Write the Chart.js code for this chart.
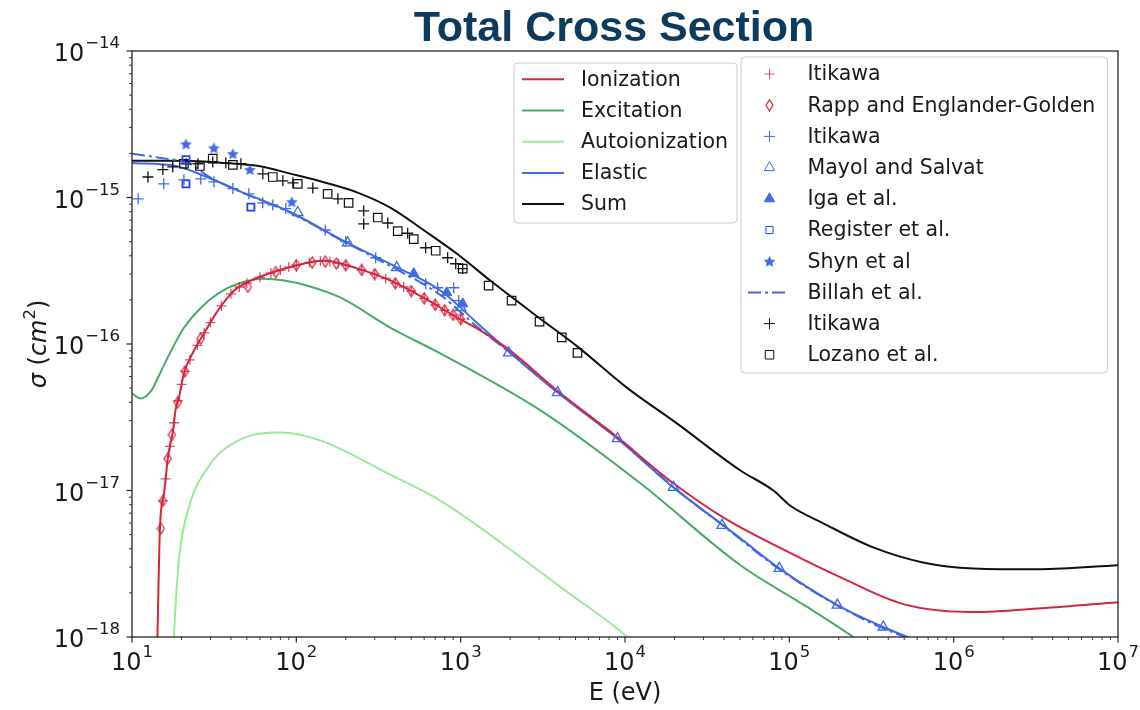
<!DOCTYPE html>
<html>
<head>
<meta charset="utf-8">
<title>Total Cross Section</title>
<script src="https://cdn.jsdelivr.net/npm/chart.js@4.4.1/dist/chart.umd.min.js"></script>
<style>
  html, body { margin: 0; padding: 0; background: #fff; }
  #wrap { position: relative; width: 1140px; height: 710px; }
</style>
</head>
<body>
<div id="wrap"><canvas id="xsChart" width="1140" height="710"></canvas></div>
<script>
// energies in eV, cross sections in cm^2

// model curves
const ionE = [14.25, 14.8, 15.7, 16.6, 17.7, 18.5, 19.3, 20.7, 23.8, 27.4, 33.3, 41.7, 52.9, 76.8, 117, 147, 236, 375, 594, 958, 1270, 1930, 4000, 9000, 19700, 40000, 101000, 204000, 500000, 1320000, 3400000, 10000000];
const ionS = [9e-19, 5.6e-18, 9.7e-18, 1.73e-17, 2.49e-17, 3.68e-17, 4.3e-17, 6.3e-17, 9.0e-17, 1.18e-16, 1.69e-16, 2.31e-16, 2.71e-16, 3.16e-16, 3.59e-16, 3.71e-16, 3.27e-16, 2.71e-16, 2.07e-16, 1.51e-16, 1.27e-16, 9.3e-17, 4.66e-17, 2.3e-17, 1.12e-17, 6.5e-18, 3.75e-18, 2.56e-18, 1.67e-18, 1.48e-18, 1.57e-18, 1.73e-18];

const excE = [10, 11.3, 13.1, 14.4, 16.5, 20.7, 26.3, 33.3, 44.1, 63.3, 84, 117, 186, 375, 756, 3060, 12400, 50400, 129000, 245000, 300000];
const excS = [4.6e-17, 4.25e-17, 4.8e-17, 5.9e-17, 8.1e-17, 1.29e-16, 1.77e-16, 2.21e-16, 2.58e-16, 2.79e-16, 2.71e-16, 2.5e-16, 2.07e-16, 1.29e-16, 8.6e-17, 3.52e-17, 1.12e-17, 3.09e-18, 1.6e-18, 1.0e-18, 8.5e-19];

const autE = [17.6, 18.0, 19.3, 21.9, 29, 44.1, 80.5, 141, 360, 756, 1750, 4060, 10350, 12000];
const autS = [5e-19, 1.0e-18, 3.34e-18, 7.3e-18, 1.44e-17, 2.19e-17, 2.49e-17, 2.19e-17, 1.31e-17, 8.5e-18, 4.42e-18, 2.19e-18, 1.0e-18, 8.5e-19];

const elE = [10, 18.5, 29, 47.2, 75, 93, 205, 414, 756, 1270, 1960, 3890, 9000, 19700, 39700, 50400, 86900, 196000, 373000, 700000];
const elS = [1.72e-15, 1.64e-15, 1.37e-15, 1.08e-15, 8.8e-16, 7.9e-16, 4.9e-16, 3.32e-16, 2.31e-16, 1.38e-16, 8.9e-17, 4.66e-17, 2.26e-17, 1.05e-17, 5.78e-18, 4.71e-18, 2.94e-18, 1.65e-18, 1.17e-18, 8.8e-19];

const bilE = [10, 14.6, 22.5, 29, 47.2, 75, 93, 205, 414, 756, 1270, 2000, 4000, 10000, 20000, 40000, 87000, 200000, 370000, 700000];
const bilS = [1.99e-15, 1.87e-15, 1.7e-15, 1.4e-15, 1.08e-15, 8.7e-16, 7.8e-16, 4.85e-16, 3.2e-16, 2.15e-16, 1.3e-16, 8.7e-17, 4.6e-17, 2.1e-17, 1.04e-17, 5.7e-18, 2.9e-18, 1.62e-18, 1.15e-18, 8.8e-19];

const sumE = [10, 20, 37, 59, 93, 147, 236, 375, 594, 958, 1520, 3020, 5140, 10350, 20000, 50400, 80000, 101000, 161000, 324000, 650000, 1320000, 3360000, 10000000];
const sumS = [1.78e-15, 1.78e-15, 1.72e-15, 1.64e-15, 1.45e-15, 1.27e-15, 1.08e-15, 8.5e-16, 6.0e-16, 4.1e-16, 2.7e-16, 1.5e-16, 9.6e-17, 5.0e-17, 2.95e-17, 1.37e-17, 1.0e-17, 7.9e-18, 5.97e-18, 4.09e-18, 3.23e-18, 2.94e-18, 2.9e-18, 3.09e-18];

// measurements
const riE = [15.5, 16, 17, 18, 19, 20, 21, 22.5, 25, 27.5, 30, 35, 40, 45, 50, 60, 70, 80, 90, 100, 120, 140, 160, 180, 200, 250, 300, 350, 400, 450, 500, 600, 700, 800, 900, 1000];
const riS = [8.5e-18, 1.2e-17, 2.0e-17, 2.9e-17, 4.1e-17, 5.3e-17, 6.5e-17, 7.8e-17, 9.8e-17, 1.19e-16, 1.4e-16, 1.82e-16, 2.2e-16, 2.45e-16, 2.6e-16, 2.85e-16, 3.05e-16, 3.2e-16, 3.35e-16, 3.45e-16, 3.6e-16, 3.68e-16, 3.65e-16, 3.55e-16, 3.45e-16, 3.2e-16, 3.0e-16, 2.8e-16, 2.6e-16, 2.45e-16, 2.3e-16, 2.05e-16, 1.85e-16, 1.7e-16, 1.58e-16, 1.48e-16];

const raE = [15.0, 15.4, 16.5, 17.5, 19, 21, 26.2, 50.7, 75, 100, 125, 150, 175, 200, 250, 300, 400, 500, 600, 700, 800, 900, 1000];
const raS = [5.5e-18, 8.5e-18, 1.65e-17, 2.4e-17, 4.0e-17, 6.5e-17, 1.09e-16, 2.45e-16, 3.1e-16, 3.45e-16, 3.6e-16, 3.65e-16, 3.55e-16, 3.45e-16, 3.2e-16, 3.0e-16, 2.6e-16, 2.3e-16, 2.05e-16, 1.85e-16, 1.7e-16, 1.58e-16, 1.48e-16];

const biE = [10.9, 15.6, 20.7, 26.2, 31.5, 41.1, 51.4, 62.5, 71.9, 86.3, 150, 200, 304, 612, 725, 907, 973];
const biS = [9.8e-16, 1.24e-15, 1.32e-15, 1.34e-15, 1.28e-15, 1.15e-15, 1.06e-15, 9.2e-16, 8.9e-16, 8.4e-16, 6.0e-16, 5.0e-16, 3.88e-16, 2.58e-16, 2.42e-16, 2.42e-16, 1.98e-16];

const maE = [102, 205, 408, 1000, 1960, 3890, 9000, 19700, 39000, 86900, 196000, 373000];
const maS = [7.9e-16, 4.9e-16, 3.32e-16, 1.77e-16, 8.7e-17, 4.66e-17, 2.26e-17, 1.05e-17, 5.78e-18, 2.94e-18, 1.65e-18, 1.17e-18];

const igE = [518, 822, 1029];
const igS = [3.02e-16, 2.24e-16, 1.88e-16];

const reE = [21.3, 21.3, 52.9];
const reS = [1.81e-15, 1.24e-15, 8.6e-16];

const shE = [21.3, 31.5, 41.1, 52.2, 93.9];
const shS = [2.32e-15, 2.18e-15, 1.99e-15, 1.55e-15, 9.35e-16];

const kiE = [12.5, 15.4, 17.7, 21.3, 25.2, 31.0, 37.2, 46.0, 62.5, 82.8, 95.3, 126, 179, 257, 257, 360, 476, 612, 833, 933, 1029];
const kiS = [1.38e-15, 1.55e-15, 1.62e-15, 1.7e-15, 1.7e-15, 1.75e-15, 1.72e-15, 1.7e-15, 1.45e-15, 1.3e-15, 1.26e-15, 1.16e-15, 9.8e-16, 8.1e-16, 6.6e-16, 6.7e-16, 5.7e-16, 4.54e-16, 3.88e-16, 3.53e-16, 3.27e-16];

const loE = [20.7, 25.9, 31.0, 41.1, 71.9, 102, 155, 208, 313, 414, 518, 705, 1029, 1479, 2040, 3020, 4120, 5140];
const loS = [1.7e-15, 1.64e-15, 1.84e-15, 1.67e-15, 1.38e-15, 1.24e-15, 1.06e-15, 9.2e-16, 7.3e-16, 5.9e-16, 5.2e-16, 4.33e-16, 3.27e-16, 2.5e-16, 1.98e-16, 1.42e-16, 1.11e-16, 8.7e-17];

// axis decades
const xDecades = [1, 2, 3, 4, 5, 6, 7];
const yDecades = [-18, -17, -16, -15, -14];

const RED = '#d3263f';
const GREEN = '#4aab69';
const LIGHT = '#95ec95';
const BLUE = '#4169e1';
const DARK = '#111111';

function pts(xs, ys) {
    return xs.map((x, i) => ({ x: x, y: ys[i] }));
}

// matplotlib-like markers that Chart.js has no built-in for
function starImg(size, color) {
    const c = document.createElement('canvas');
    c.width = c.height = size;
    const g = c.getContext('2d');
    const r = size / 2, ri = r * 0.45;
    g.beginPath();
    for (let i = 0; i < 10; i++) {
        const ang = -Math.PI / 2 + i * Math.PI / 5;
        const rr = i % 2 ? ri : r - 0.3;
        g.lineTo(r + rr * Math.cos(ang), r + 0.6 + rr * Math.sin(ang));
    }
    g.closePath();
    g.fillStyle = color;
    g.fill();
    return c;
}

function thinDiamondImg(w, h, color) {
    const c = document.createElement('canvas');
    c.width = w; c.height = h;
    const g = c.getContext('2d');
    g.beginPath();
    g.moveTo(w / 2, 1);
    g.lineTo(w - 1, h / 2);
    g.lineTo(w / 2, h - 1);
    g.lineTo(1, h / 2);
    g.closePath();
    g.strokeStyle = color;
    g.lineWidth = 1.3;
    g.stroke();
    return c;
}

const starMarker = starImg(13, BLUE);
const diamondMarker = thinDiamondImg(9, 13, RED);

function marks(label, xs, ys, style) {
    return Object.assign({
        label: label,
        data: pts(xs, ys),
        showLine: false,
        order: 0,
        pointHoverRadius: 0
    }, style);
}

function curve(label, xs, ys, color, dash) {
    return {
        label: label,
        data: pts(xs, ys),
        showLine: true,
        order: 1,
        borderColor: color,
        borderWidth: 2,
        borderDash: dash || [],
        pointRadius: 0,
        pointHoverRadius: 0,
        cubicInterpolationMode: 'monotone',
        fill: false
    };
}

const datasets = [
    marks('Itikawa', riE, riS, { pointStyle: 'cross', pointRadius: 5, pointBorderWidth: 1.3, pointBorderColor: 'rgba(211,38,63,0.8)' }),
    marks('Rapp and Englander-Golden', raE, raS, { pointStyle: diamondMarker }),
    marks('Itikawa', biE, biS, { pointStyle: 'cross', pointRadius: 5.5, pointBorderWidth: 1.3, pointBorderColor: BLUE }),
    marks('Mayol and Salvat', maE, maS, { pointStyle: 'triangle', pointRadius: 6, pointBorderWidth: 1.3, pointBorderColor: BLUE, pointBackgroundColor: 'rgba(255,255,255,0)' }),
    marks('Iga et al.', igE, igS, { pointStyle: 'triangle', pointRadius: 6, pointBorderWidth: 1, pointBorderColor: BLUE, pointBackgroundColor: BLUE }),
    marks('Register et al.', reE, reS, { pointStyle: 'rect', pointRadius: 5, pointBorderWidth: 1.8, pointBorderColor: '#2345e6', pointBackgroundColor: 'rgba(255,255,255,0)' }),
    marks('Shyn et al', shE, shS, { pointStyle: starMarker }),
    marks('Itikawa', kiE, kiS, { pointStyle: 'cross', pointRadius: 5.5, pointBorderWidth: 1.3, pointBorderColor: DARK }),
    marks('Lozano et al.', loE, loS, { pointStyle: 'rect', pointRadius: 6, pointBorderWidth: 1.2, pointBorderColor: DARK, pointBackgroundColor: 'rgba(255,255,255,0)' }),
    curve('Ionization', ionE, ionS, RED),
    curve('Excitation', excE, excS, GREEN),
    curve('Autoionization', autE, autS, LIGHT),
    curve('Elastic', elE, elS, BLUE),
    curve('Billah et al.', bilE, bilS, BLUE, [13, 4, 3, 4]),
    curve('Sum', sumE, sumS, DARK)
];

const SUP_FONT = '16.5px "DejaVu Sans"';
const BASE_FONT = '24px "DejaVu Sans"';

function drawPower(ctx, exp, x, baseY, align) {
    const expTxt = String(exp).replace('-', '\u2212');
    ctx.font = BASE_FONT;
    const w1 = ctx.measureText('10').width;
    ctx.font = SUP_FONT;
    const w2 = ctx.measureText(expTxt).width;
    const total = w1 + 1 + w2;
    const x0 = align === 'right' ? x - total : x - total / 2;
    ctx.textAlign = 'left';
    ctx.textBaseline = 'alphabetic';
    ctx.font = BASE_FONT;
    ctx.fillText('10', x0, baseY);
    ctx.font = SUP_FONT;
    ctx.fillText(expTxt, x0 + w1 + 1, baseY - 13);
}

function roundBox(ctx, x0, y0, x1, y1, r) {
    ctx.beginPath();
    ctx.moveTo(x0 + r, y0);
    ctx.arcTo(x1, y0, x1, y1, r);
    ctx.arcTo(x1, y1, x0, y1, r);
    ctx.arcTo(x0, y1, x0, y0, r);
    ctx.arcTo(x0, y0, x1, y0, r);
    ctx.closePath();
    ctx.fillStyle = 'rgba(255,255,255,0.85)';
    ctx.fill();
    ctx.strokeStyle = '#cccccc';
    ctx.lineWidth = 1;
    ctx.stroke();
}

function drawLegend(ctx, chart, box, idx, first, step, markX, lineX, textX) {
    roundBox(ctx, box[0], box[1], box[2], box[3], 4);
    idx.forEach((di, i) => {
        const ds = chart.data.datasets[di];
        const y = first + i * step;
        ctx.save();
        if (ds.showLine) {
            ctx.strokeStyle = ds.borderColor;
            ctx.lineWidth = ds.borderWidth;
            ctx.setLineDash(ds.borderDash);
            ctx.beginPath();
            ctx.moveTo(lineX[0], y);
            ctx.lineTo(lineX[1], y);
            ctx.stroke();
        } else {
            ctx.strokeStyle = ds.pointBorderColor || DARK;
            ctx.fillStyle = ds.pointBackgroundColor || 'rgba(0,0,0,0)';
            Chart.helpers.drawPoint(ctx, {
                pointStyle: ds.pointStyle,
                radius: ds.pointRadius || 5,
                rotation: 0,
                borderWidth: ds.pointBorderWidth || 1
            }, markX, y);
        }
        ctx.restore();
        ctx.fillStyle = '#1a1a1a';
        ctx.font = '20.5px "DejaVu Sans"';
        ctx.textAlign = 'left';
        ctx.textBaseline = 'middle';
        ctx.fillText(ds.label, textX, y + 1);
    });
}

const decorPlugin = {
    id: 'decor',
    afterDraw(chart) {
        const { ctx, chartArea: a } = chart;
        const xs = chart.scales.x, ys = chart.scales.y;
        ctx.save();

        // frame
        ctx.strokeStyle = '#262626';
        ctx.lineWidth = 1.3;
        ctx.strokeRect(a.left, a.top, a.right - a.left, a.bottom - a.top);

        // tick marks (outward, major + minor)
        ctx.strokeStyle = '#262626';
        xDecades.forEach(e => {
            for (let k = 1; k <= 9; k++) {
                if (e === xDecades[xDecades.length - 1] && k > 1) break;
                const px = xs.getPixelForValue(Number(k + 'e' + e));
                ctx.lineWidth = k === 1 ? 1.2 : 0.9;
                ctx.beginPath();
                ctx.moveTo(px, a.bottom);
                ctx.lineTo(px, a.bottom + (k === 1 ? 5.5 : 3));
                ctx.stroke();
            }
        });
        yDecades.forEach(e => {
            for (let k = 1; k <= 9; k++) {
                if (e === yDecades[yDecades.length - 1] && k > 1) break;
                const py = ys.getPixelForValue(Number(k + 'e' + e));
                ctx.lineWidth = k === 1 ? 1.2 : 0.9;
                ctx.beginPath();
                ctx.moveTo(a.left, py);
                ctx.lineTo(a.left - (k === 1 ? 5.5 : 3), py);
                ctx.stroke();
            }
        });

        // tick labels
        ctx.fillStyle = '#1a1a1a';
        xDecades.forEach(e => {
            drawPower(ctx, e, xs.getPixelForValue(Number('1e' + e)), 670, 'center');
        });
        yDecades.forEach(e => {
            const py = ys.getPixelForValue(Number('1e' + e));
            drawPower(ctx, e, 120, py + 10, 'right');
        });

        // axis titles
        ctx.font = BASE_FONT;
        ctx.textAlign = 'center';
        ctx.textBaseline = 'alphabetic';
        ctx.fillText('E (eV)', (a.left + a.right) / 2, 700);

        ctx.save();
        ctx.translate(46, (a.top + a.bottom) / 2);
        ctx.rotate(-Math.PI / 2);
        const parts = [
            ['σ', 'italic 24px "DejaVu Sans"', 0],
            [' (', BASE_FONT, 0],
            ['cm', 'italic 24px "DejaVu Sans"', 0],
            ['2', SUP_FONT, -11],
            [')', BASE_FONT, 0]
        ];
        let tw = 0;
        parts.forEach(p => { ctx.font = p[1]; tw += ctx.measureText(p[0]).width; });
        let cx = -tw / 2;
        ctx.textAlign = 'left';
        parts.forEach(p => {
            ctx.font = p[1];
            ctx.fillText(p[0], cx, p[2]);
            cx += ctx.measureText(p[0]).width;
        });
        ctx.restore();

        // chart title
        ctx.fillStyle = '#0c3b5e';
        ctx.font = 'bold 43px "Liberation Sans", Arial, sans-serif';
        ctx.textAlign = 'center';
        ctx.textBaseline = 'alphabetic';
        ctx.fillText('Total Cross Section', 614, 41);

        // legends
        drawLegend(ctx, chart, [514, 63, 737, 223], [9, 10, 11, 12, 14], 79.3, 31.2, 0, [522, 564], 581);
        drawLegend(ctx, chart, [741, 57, 1107.5, 373], [0, 1, 2, 3, 4, 5, 6, 13, 7, 8], 74, 31.2, 769.5, [748, 789], 807.5);

        ctx.restore();
    }
};

const ctx = document.getElementById('xsChart').getContext('2d');
new Chart(ctx, {
    type: 'scatter',
    data: { datasets: datasets },
    options: {
        responsive: false,
        animation: false,
        devicePixelRatio: 1,
        layout: { padding: { top: 51, right: 22, bottom: 0, left: 0 } },
        plugins: {
            legend: { display: false },
            tooltip: { enabled: false },
            title: { display: false }
        },
        scales: {
            x: {
                type: 'logarithmic',
                position: 'bottom',
                min: 10,
                max: 1e7,
                ticks: { display: false },
                grid: { display: false },
                border: { display: false },
                afterFit: s => { s.height = 73; }
            },
            y: {
                type: 'logarithmic',
                position: 'left',
                min: 1e-18,
                max: 1e-14,
                ticks: { display: false },
                grid: { display: false },
                border: { display: false },
                afterFit: s => { s.width = 132; }
            }
        }
    },
    plugins: [decorPlugin]
});
</script>
</body>
</html>
